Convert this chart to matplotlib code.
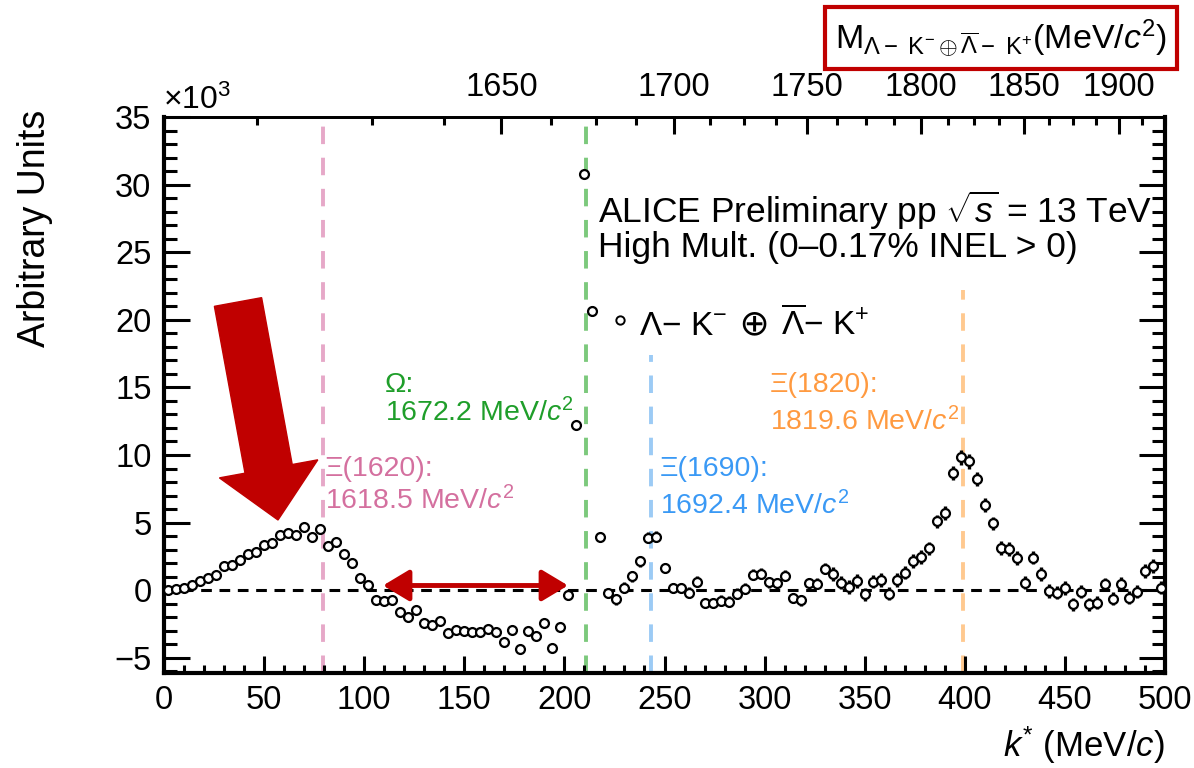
"""
Lambda-K correlation in pp 13 TeV, high multiplicity: k* distribution
with the mass axis on top and the known Xi / Omega states marked.
"""

import numpy as np
import matplotlib

matplotlib.use("Agg")
import matplotlib.pyplot as plt
from matplotlib.patches import FancyArrow
from matplotlib.ticker import MultipleLocator, FixedLocator
from matplotlib.transforms import IdentityTransform

plt.rcParams["font.family"] = ["Liberation Sans", "DejaVu Sans"]
plt.rcParams["mathtext.fontset"] = "custom"
plt.rcParams["mathtext.rm"] = "Liberation Sans"
plt.rcParams["mathtext.it"] = "Liberation Sans:italic"
plt.rcParams["mathtext.bf"] = "Liberation Sans:bold"

# ---------------------------------------------------------------------------
# Data (counts in units of 10^3, 4 MeV/c bins)
# ---------------------------------------------------------------------------
k_star = np.arange(2, 500, 4)  # bin centres, MeV/c

counts = [
    0.0, 0.1, 0.2, 0.4, 0.65, 0.9, 1.15, 1.8, 1.85, 2.2, 2.65, 2.85, 3.35,
    3.5, 4.05, 4.2, 4.1, 4.7, 3.95, 4.55, 3.25, 3.55, 2.7, 2.0, 0.9, 0.35,
    -0.7, -0.8, -0.7, -1.6, -2.0, -1.45, -2.45, -2.6, -2.3, -3.2, -2.95,
    -3.05, -3.1, -3.1, -2.85, -3.1, -3.8, -2.95, -4.35, -3.05, -3.4, -2.45,
    -4.3, -2.7, -0.35,
    12.2, 30.8, 20.65, 3.96,
    -0.2, -0.67, 0.2, 1.04, 2.15, 3.88, 3.95, 1.65, 0.17, 0.17, -0.17, 0.62,
    -0.94, -0.94, -0.77, -0.86, -0.25, 0.12, 1.16, 1.23, 0.59, 0.52, 1.06,
    -0.57, -0.74, 0.54, 0.49, 1.6,
    1.19, 0.57, 0.25, 0.69, -0.3, 0.64, 0.77, -0.25, 0.77, 1.31, 2.17, 2.47,
    3.09, 5.09, 5.7, 8.67, 9.83, 9.53, 8.22, 6.32, 4.94, 3.11, 3.04, 2.37,
    0.57, 2.42, 1.19, -0.05, -0.17, 0.15, -1.04, -0.1, -1.04, -0.91, 0.44,
    -0.62, 0.49, -0.54, -0.1, 1.43, 1.8, 0.2,
]

errors = [
    # 2 - 50
    0.1, 0.1, 0.1, 0.1, 0.1, 0.1, 0.1, 0.1, 0.1, 0.1, 0.1, 0.1, 0.1,
    # 54 - 102
    0.15, 0.15, 0.15, 0.15, 0.15, 0.15, 0.15, 0.15, 0.15, 0.15, 0.15, 0.15, 0.15,
    # 106 - 166
    0.2, 0.2, 0.2, 0.2, 0.2, 0.2, 0.2, 0.2, 0.2, 0.2, 0.2, 0.2, 0.2, 0.2, 0.2, 0.2,
    # 170 - 202
    0.3, 0.3, 0.3, 0.3, 0.3, 0.3, 0.3, 0.3, 0.35,
    # 206 - 218
    0.25, 0.25, 0.35, 0.35,
    # 222 - 330
    0.4, 0.4, 0.4, 0.4, 0.4, 0.4, 0.4, 0.4, 0.4, 0.4, 0.4, 0.4, 0.4, 0.4,
    0.4, 0.4, 0.4, 0.4, 0.4, 0.4, 0.4, 0.4, 0.4, 0.4, 0.4, 0.4, 0.4, 0.4,
    # 334 - 498
    0.5, 0.5, 0.5, 0.5, 0.5, 0.5, 0.5, 0.5, 0.5, 0.5, 0.5, 0.5, 0.5, 0.5,
    0.5, 0.55, 0.55, 0.55, 0.5, 0.5, 0.5, 0.5, 0.5, 0.5, 0.5, 0.5, 0.5, 0.5,
    0.5, 0.5, 0.5, 0.5, 0.5, 0.5, 0.5, 0.5, 0.5, 0.5, 0.5, 0.5, 0.5, 0.5,
]

state_names = ["Ξ(1620):", "Ω:", "Ξ(1690):", "Ξ(1820):"]
state_masses = [1618.5, 1672.2, 1692.4, 1819.6]  # MeV/c^2
state_colors = ["#d4709f", "#1f9e2a", "#3a99f5", "#ff9a40"]
line_colors = ["#e6a8c8", "#7cc97c", "#9ccbf5", "#ffc98f"]

mass_ticks = [1650, 1700, 1750, 1800, 1850, 1900]

M_LAMBDA = 1115.683
M_KAON = 493.677


def k_to_mass(k):
    k = np.asarray(k, dtype=float)
    return np.sqrt(M_LAMBDA**2 + k**2) + np.sqrt(M_KAON**2 + k**2)


def mass_to_k(m):
    m = np.asarray(m, dtype=float)
    s = np.maximum(m, M_LAMBDA + M_KAON) ** 2
    num = (s - (M_LAMBDA + M_KAON) ** 2) * (s - (M_LAMBDA - M_KAON) ** 2)
    return np.sqrt(np.maximum(num, 0.0) / (4.0 * s))


# ---------------------------------------------------------------------------
# Figure
# ---------------------------------------------------------------------------
W, H = 1194, 768
fig = plt.figure(figsize=(W / 100, H / 100), dpi=100)
ax = fig.add_axes([164 / W, 1 - 672.7 / H, 1001 / W, 555.7 / H])

ax.set_xlim(0, 500)
ax.set_ylim(-6.1, 35)

# zero line
ax.axhline(0, color="black", lw=2.2, ls=(0, (3.5, 2.5)), zorder=1)

# resonance lines (tops limited where the text box covers them)
line_tops = [35, 35, 17.4, 22.2]
for m, c, top in zip(state_masses, line_colors, line_tops):
    ax.vlines(mass_to_k(m), -6.1, top, colors=c, lw=2.8,
              linestyles=(0, (4.5, 3.5)), zorder=1)

ax.errorbar(k_star, counts, yerr=errors, fmt="o", ms=6.4, mfc="white",
            mec="black", mew=1.6, ecolor="black", elinewidth=2.4,
            capsize=0, zorder=3)

# state labels
label_pos = [(80.4, 9.0), (110.4, 15.2), (247.8, 9.0), (302.7, 15.2)]
line_gap = [2.4, 2.1, 2.75, 2.75]
for name, m, c, (x, y), gap in zip(state_names, state_masses, state_colors,
                                   label_pos, line_gap):
    ax.text(x, y, name, color=c, fontsize=20.5, va="center", ha="left")
    ax.text(x, y - gap, f"{m:.1f} MeV/$c^{{2}}$", color=c, fontsize=20.5,
            va="center", ha="left")

ax.text(216.8, 28.1, r"ALICE Preliminary pp $\sqrt{s}$ = 13 TeV",
        fontsize=25.5, va="center", ha="left")
ax.text(216.8, 25.35, "High Mult. (0\u20130.17% INEL > 0)",
        fontsize=25.5, va="center", ha="left")

# legend entry, built in pieces so the circled plus comes from DejaVu
ax.plot([227.8], [20.0], "o", ms=6, mfc="white", mec="black", mew=1.4)
leg1 = ax.text(237.5, 18.9, "\u039b\u2212 K$^{-}$", fontsize=24,
               va="baseline", ha="left")
leg2 = ax.annotate(" \u2295 ", xy=(1, 0), xycoords=leg1, fontsize=26,
                   family=["DejaVu Sans"], va="bottom", ha="left")
ax.annotate("$\\overline{\\Lambda}$\u2212 K$^{+}$", xy=(1, 0), xycoords=leg2,
            fontsize=24, va="bottom", ha="left")

# double arrow over the depletion region
ax.annotate("", xy=(109.4, 0.35), xytext=(201.8, 0.35),
            arrowprops=dict(arrowstyle="<|-|>,head_length=1.0,head_width=0.6",
                            color="#c00000", lw=3.5, mutation_scale=16,
                            shrinkA=0, shrinkB=0), zorder=4)

# axes styling
for sp in ax.spines.values():
    sp.set_linewidth(3)
ax.spines["top"].set_linewidth(2)
ax.xaxis.set_major_locator(MultipleLocator(50))
ax.xaxis.set_minor_locator(MultipleLocator(10))
ax.yaxis.set_major_locator(MultipleLocator(5))
ax.yaxis.set_minor_locator(MultipleLocator(1))
ax.tick_params(axis="both", which="both", direction="in", width=2.2,
               labelsize=23.5)
ax.tick_params(axis="x", which="major", length=12, pad=9, top=False)
ax.tick_params(axis="x", which="minor", length=6, top=False)
ax.tick_params(axis="y", which="major", length=19, pad=9, right=True)
ax.tick_params(axis="y", which="minor", length=9.5, right=True)

secax = ax.secondary_xaxis("top", functions=(k_to_mass, mass_to_k))
secax.xaxis.set_major_locator(FixedLocator(mass_ticks))
secax.xaxis.set_minor_locator(MultipleLocator(12.5))
secax.tick_params(axis="x", which="both", direction="in", width=2.2,
                  labelsize=23.5, pad=10)
secax.tick_params(axis="x", which="major", length=12)
secax.tick_params(axis="x", which="minor", length=6)
secax.spines["top"].set_linewidth(2)

fig.text(1165 / W, 1 - 757 / H, r"$k^{*}$ (MeV/$c$)", fontsize=25,
         ha="right", va="baseline")
fig.text(35 / W, 1 - 110 / H, "Arbitrary Units", rotation=90, fontsize=27,
         ha="center", va="top")
fig.text(163 / W, 1 - 100 / H, r"$\times10^{3}$", fontsize=23,
         ha="left", va="center")

# mass axis title in a red box
fig.text(1001 / W, 1 - 38 / H,
         r"M$_{\Lambda-\ \mathrm{K}^{-}\oplus\overline{\Lambda}-\ \mathrm{K}^{+}}$(MeV/$c^{2}$)",
         fontsize=24.5, ha="center", va="center",
         bbox=dict(boxstyle="square,pad=0.3", fc="white", ec="#c00000", lw=3))

# big red arrow pointing at the low-k* enhancement
arrow = FancyArrow(238, H - 302, 40, -218, width=48, head_width=100,
                   head_length=52, length_includes_head=True,
                   color="#c00000", transform=IdentityTransform())
fig.add_artist(arrow)

fig.savefig("out.png", dpi=100)
